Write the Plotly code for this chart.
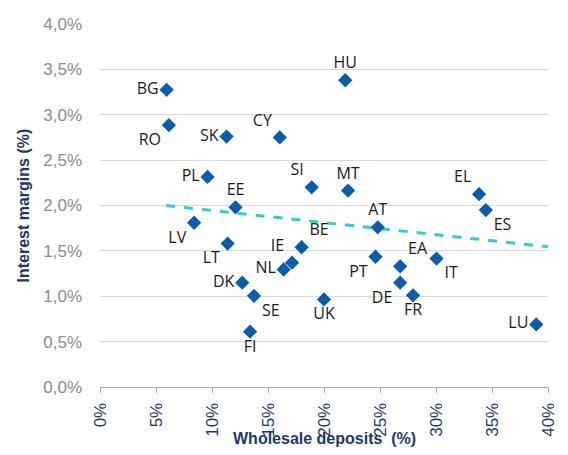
import plotly.graph_objects as go

countries = ["BG", "RO", "SK", "CY", "PL", "EE", "LV", "HU", "SI", "MT", "EL", "ES", "AT",
             "LT", "DK", "SE", "FI", "NL", "IE", "BE", "PT", "EA", "DE", "FR", "IT", "UK", "LU"]
wholesale = [5.95, 6.15, 11.3, 16.05, 9.6, 12.1, 8.4, 21.9, 18.9, 22.15, 33.85, 34.45, 24.8,
             11.4, 12.7, 13.75, 13.4, 16.4, 17.15, 18.0, 24.6, 26.8, 26.8, 27.95, 30.05, 20.0, 38.95]
margins = [3.275, 2.885, 2.76, 2.75, 2.315, 1.98, 1.81, 3.38, 2.20, 2.165, 2.125, 1.95, 1.76,
           1.58, 1.15, 1.005, 0.61, 1.295, 1.37, 1.54, 1.435, 1.33, 1.15, 1.01, 1.415, 0.965, 0.69]
label_pos = ["middle left", "bottom left", "middle left", "top left", "middle left", "top center",
             "bottom left", "top center", "top left", "top center", "top left", "bottom right",
             "top center", "bottom left", "middle left", "bottom right", "bottom center",
             "middle left", "top left", "top right", "bottom left", "top right", "bottom left",
             "bottom center", "bottom right", "bottom center", "middle left"]

trend_x = [5.9, 40.0]
trend_y = [2.0, 1.545]

x_ticks = [0, 5, 10, 15, 20, 25, 30, 35, 40]
x_ticktext = ["0%", "5%", "10%", "15%", "20%", "25%", "30%", "35%", "40%"]
y_ticks = [0, 0.5, 1.0, 1.5, 2.0, 2.5, 3.0, 3.5, 4.0]
y_ticktext = ["0,0%", "0,5%", "1,0%", "1,5%", "2,0%", "2,5%", "3,0%", "3,5%", "4,0%"]

fig = go.Figure()
fig.add_trace(go.Scatter(
    x=trend_x, y=trend_y, mode="lines",
    line=dict(color="#33CCCC", width=3, dash="dash"),
    hoverinfo="skip", showlegend=False))
fig.add_trace(go.Scatter(
    x=wholesale, y=margins, mode="markers+text",
    text=countries, textposition=label_pos,
    textfont=dict(family="Open Sans", size=16, color="#1A1A1A"),
    marker=dict(symbol="diamond", size=11, color="#0B5CAD"),
    showlegend=False))

# page body has an 8px default margin, so the figure is sized to fit the window
fig.update_layout(
    width=552, height=439,
    margin=dict(l=92, r=12, t=16, b=60, autoexpand=False),
    paper_bgcolor="white", plot_bgcolor="white",
    font=dict(family="Liberation Sans, Arial, sans-serif"),
    xaxis=dict(
        range=[0, 40], tickvals=x_ticks, ticktext=x_ticktext, tickangle=-90,
        tickfont=dict(size=17, color="#1F3864"),
        showgrid=False, zeroline=False, automargin=False,
        showline=True, linecolor="#A6A6A6", linewidth=1,
        ticks="outside", ticklen=5, tickcolor="#A6A6A6", ticklabelstandoff=3),
    yaxis=dict(
        range=[0, 4], tickvals=y_ticks, ticktext=y_ticktext,
        tickfont=dict(size=17, color="#8C8C8C"),
        showgrid=True, gridcolor="#D9D9D9", gridwidth=1, zeroline=False,
        showline=False, ticks="", ticklen=0, automargin=False,
        ticklabelstandoff=17),
    annotations=[
        dict(text="<b>Interest margins (%)</b>", textangle=-90,
             xref="paper", yref="paper", x=0, y=0.5, xanchor="center", yanchor="middle",
             xshift=-77, showarrow=False, font=dict(size=16, color="#1F3864")),
        dict(text="<b>Wholesale deposits  (%)</b>",
             xref="paper", yref="paper", x=0.5, y=0, xanchor="center", yanchor="middle",
             yshift=-51, showarrow=False, font=dict(size=16, color="#1F3864")),
    ],
)

fig.write_html("out.html")
